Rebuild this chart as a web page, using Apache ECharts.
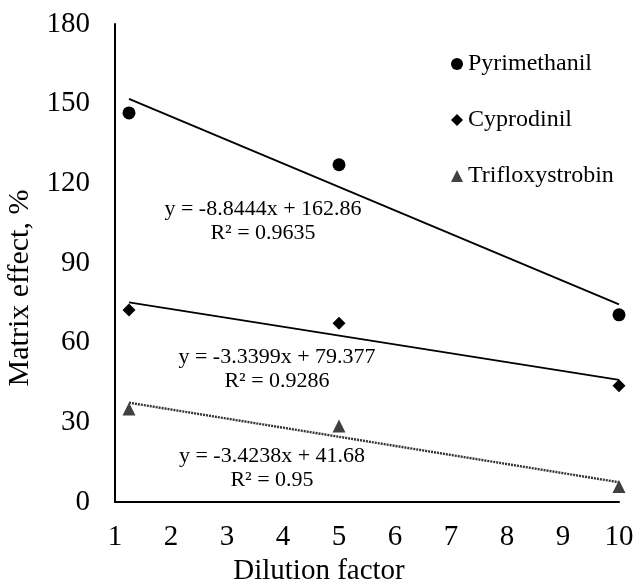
<!DOCTYPE html>
<html>
<head>
<meta charset="utf-8">
<script src="https://cdn.jsdelivr.net/npm/echarts@6/dist/echarts.min.js"></script>
<style>html,body{margin:0;padding:0;background:#fff}#c{width:635px;height:584px}</style>
</head>
<body>
<div id="c"></div>
<script>
const seriesNames = ['Pyrimethanil', 'Cyprodinil', 'Trifloxystrobin'];
const dilution = [1.25, 5, 10];
const pyrimethanil = [146.5, 127, 70.5];
const cyprodinil = [72.3, 67.3, 43.8];
const trifloxystrobin = [35, 28.6, 5.8];
const slopes = [-8.8444, -3.3399, -3.4238];
const intercepts = [162.86, 79.377, 41.68];
const r2 = ['0.9635', '0.9286', '0.95'];
const xTicks = [1,2,3,4,5,6,7,8,9,10];
const yTicks = [0,30,60,90,120,150,180];

const values = [pyrimethanil, cyprodinil, trifloxystrobin];
const symbols = ['circle', 'diamond', 'triangle'];
const symSizes = [13, 13, 13];
const colors = ['#000', '#000', '#404040'];
const font = 'Liberation Serif, Times New Roman, serif';

const chart = echarts.init(document.getElementById('c'));
const series = [];
values.forEach((v, i) => {
  series.push({
    name: seriesNames[i], type: 'scatter', symbol: symbols[i], symbolSize: symSizes[i],
    itemStyle: {color: colors[i], opacity: 1}, z: 5,
    data: dilution.map((x, j) => [x, v[j]])
  });
});
slopes.forEach((m, i) => {
  const x0 = dilution[0], x1 = dilution[dilution.length - 1];
  series.push({
    name: 'trend' + i, type: 'line', showSymbol: false, silent: true,
    lineStyle: i === 2 ? {color: '#333', width: 2.4, type: [2, 1]} : {color: '#000', width: 1.8},
    data: [[x0, m * x0 + intercepts[i]], [x1, m * x1 + intercepts[i]]]
  });
});

const eqPos = [[263, 221], [277, 369], [272, 468]];
const graphics = [];
slopes.forEach((m, i) => {
  const txt = 'y = ' + m + 'x + ' + intercepts[i] + '\nR² = ' + r2[i];
  graphics.push({
    type: 'text', x: eqPos[i][0], y: eqPos[i][1],
    style: {text: txt, font: '22px ' + font, fill: '#000', align: 'center', verticalAlign: 'middle', lineHeight: 24}
  });
});

chart.setOption({
  animation: false,
  backgroundColor: '#fff',
  grid: {left: 115, right: 16, top: 24, bottom: 82, outerBoundsMode: 'none', containLabel: false},
  legend: {
    orient: 'vertical', left: 446, top: 47, itemGap: 32, itemWidth: 12, itemHeight: 12,
    data: seriesNames.map((n, i) => ({name: n, icon: symbols[i]})),
    textStyle: {fontFamily: font, fontSize: 24, color: '#000', lineHeight: 24}
  },
  xAxis: {
    type: 'value', min: xTicks[0], max: xTicks[xTicks.length - 1], interval: 1,
    name: 'Dilution factor', nameLocation: 'middle', nameGap: 53,
    nameTextStyle: {fontFamily: font, fontSize: 29, color: '#000', padding: [0, 96, 0, 0]},
    axisLine: {show: true, lineStyle: {color: '#000', width: 2}},
    axisTick: {show: false}, splitLine: {show: false},
    axisLabel: {fontFamily: font, fontSize: 29, color: '#000', margin: 21}
  },
  yAxis: {
    type: 'value', min: yTicks[0], max: yTicks[yTicks.length - 1], interval: 30,
    name: 'Matrix effect, %', nameLocation: 'middle', nameGap: 76,
    nameTextStyle: {fontFamily: font, fontSize: 30, color: '#000', padding: [0, 50, 0, 0]},
    axisLine: {show: true, lineStyle: {color: '#000', width: 2}},
    axisTick: {show: false}, splitLine: {show: false},
    axisLabel: {fontFamily: font, fontSize: 29, color: '#000', margin: 25}
  },
  graphic: graphics,
  series: series
});
</script>
</body>
</html>
